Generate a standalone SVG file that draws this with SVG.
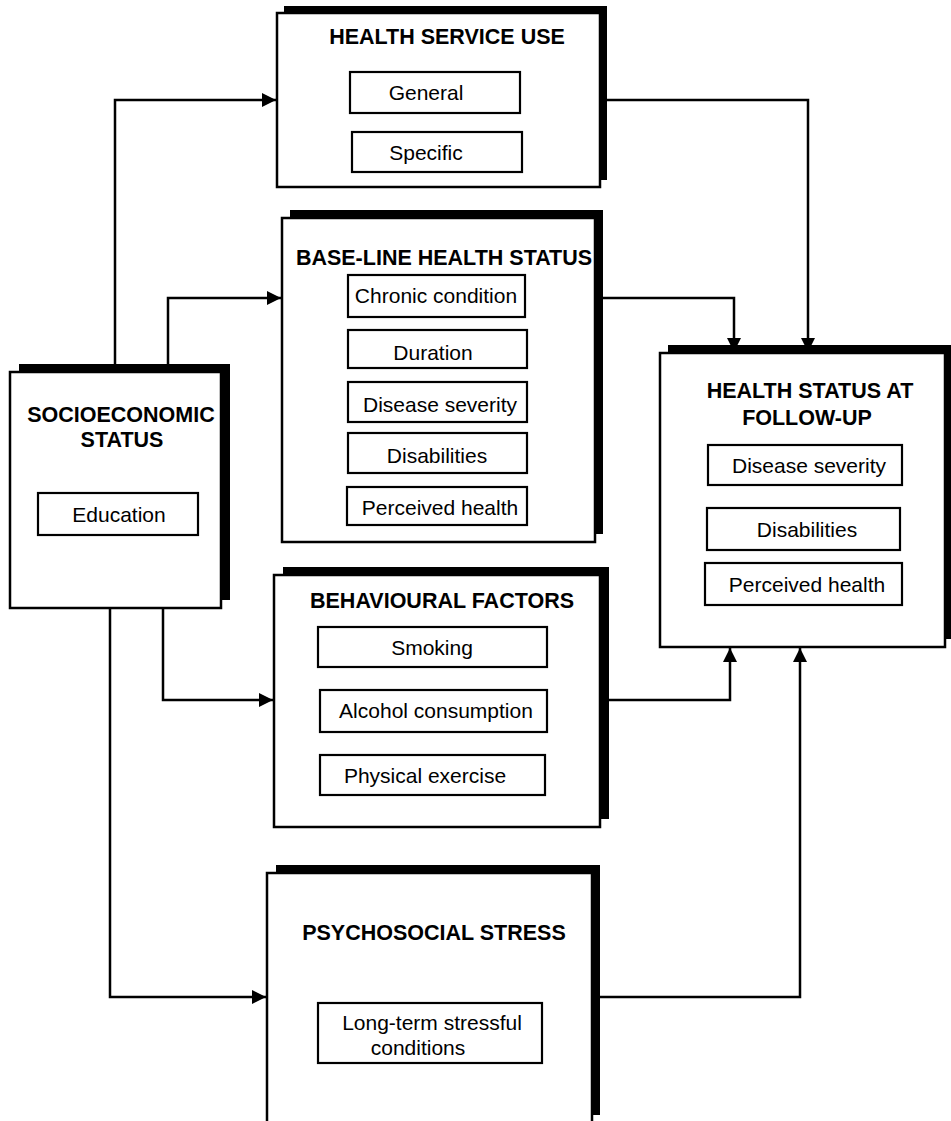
<svg xmlns="http://www.w3.org/2000/svg" width="951" height="1121" viewBox="0 0 951 1121">
<style>
.sh{fill:#000}
.bx{fill:#fff;stroke:#000;stroke-width:2.5}
.ib{fill:#fff;stroke:#000;stroke-width:2.2}
.t{font-family:"Liberation Sans",Arial,sans-serif;font-size:21.5px;font-weight:bold;text-anchor:middle;fill:#000}
.s{font-family:"Liberation Sans",Arial,sans-serif;font-size:21px;text-anchor:middle;fill:#000}
.c{fill:none;stroke:#000;stroke-width:2.5}
</style>
<defs>
<marker id="ah" viewBox="0 0 10 10" refX="10" refY="5" markerWidth="6.4" markerHeight="5.6" markerUnits="strokeWidth" orient="auto">
<path d="M0,0 L10,5 L0,10 Z" fill="#000"/>
</marker>
</defs>
<rect width="951" height="1121" fill="#fff"/>
<g id="connectors">
<path class="c" d="M115,372 V100 H276" marker-end="url(#ah)"/>
<path class="c" d="M168,372 V298 H281" marker-end="url(#ah)"/>
<path class="c" d="M600,100 H808 V352" marker-end="url(#ah)"/>
<path class="c" d="M595,298 H734 V352" marker-end="url(#ah)"/>
<path class="c" d="M163,608 V700 H273" marker-end="url(#ah)"/>
<path class="c" d="M110,608 V997 H266" marker-end="url(#ah)"/>
<path class="c" d="M600,700 H730 V648" marker-end="url(#ah)"/>
<path class="c" d="M592,997 H800 V648" marker-end="url(#ah)"/>
</g>
<g id="health-service-use">
<rect class="sh" x="284" y="6" width="323" height="174"/>
<rect class="bx" x="277" y="13" width="323" height="174"/>
<text class="t" x="447" y="44">HEALTH SERVICE USE</text>
<rect class="ib" x="350" y="72" width="170" height="41"/>
<text class="s" x="426" y="100">General</text>
<rect class="ib" x="352" y="132" width="170" height="40"/>
<text class="s" x="426" y="160">Specific</text>
</g>
<g id="baseline-health-status">
<rect class="sh" x="290" y="210" width="313" height="324"/>
<rect class="bx" x="282" y="218" width="313" height="324"/>
<text class="t" x="444" y="265">BASE-LINE HEALTH STATUS</text>
<rect class="ib" x="348" y="275" width="177" height="42"/>
<text class="s" x="436" y="303">Chronic condition</text>
<rect class="ib" x="348" y="330" width="179" height="38"/>
<text class="s" x="433" y="360">Duration</text>
<rect class="ib" x="348" y="382" width="179" height="40"/>
<text class="s" x="440" y="412">Disease severity</text>
<rect class="ib" x="348" y="433" width="179" height="40"/>
<text class="s" x="437" y="463">Disabilities</text>
<rect class="ib" x="347" y="487" width="180" height="38"/>
<text class="s" x="440" y="515">Perceived health</text>
</g>
<g id="socioeconomic-status">
<rect class="sh" x="19" y="364" width="211" height="236"/>
<rect class="bx" x="10" y="372" width="211" height="236"/>
<text class="t" x="121" y="422">SOCIOECONOMIC</text>
<text class="t" x="122" y="447">STATUS</text>
<rect class="ib" x="38" y="493" width="160" height="42"/>
<text class="s" x="119" y="522">Education</text>
</g>
<g id="health-status-follow-up">
<rect class="sh" x="668" y="345" width="285" height="294"/>
<rect class="bx" x="660" y="353" width="285" height="294"/>
<text class="t" x="810" y="398">HEALTH STATUS AT</text>
<text class="t" x="807" y="425">FOLLOW-UP</text>
<rect class="ib" x="708" y="445" width="194" height="40"/>
<text class="s" x="809" y="473">Disease severity</text>
<rect class="ib" x="707" y="508" width="193" height="42"/>
<text class="s" x="807" y="537">Disabilities</text>
<rect class="ib" x="705" y="563" width="197" height="42"/>
<text class="s" x="807" y="592">Perceived health</text>
</g>
<g id="behavioural-factors">
<rect class="sh" x="283" y="567" width="326" height="252"/>
<rect class="bx" x="274" y="575" width="326" height="252"/>
<text class="t" x="442" y="608">BEHAVIOURAL FACTORS</text>
<rect class="ib" x="318" y="627" width="229" height="40"/>
<text class="s" x="432" y="655">Smoking</text>
<rect class="ib" x="320" y="690" width="227" height="42"/>
<text class="s" x="436" y="718">Alcohol consumption</text>
<rect class="ib" x="320" y="755" width="225" height="40"/>
<text class="s" x="425" y="783">Physical exercise</text>
</g>
<g id="psychosocial-stress">
<rect class="sh" x="276" y="865" width="324" height="250"/>
<rect class="bx" x="267" y="873" width="325" height="260"/>
<text class="t" x="434" y="940">PSYCHOSOCIAL STRESS</text>
<rect class="ib" x="318" y="1003" width="224" height="60"/>
<text class="s" x="432" y="1030">Long-term stressful</text>
<text class="s" x="418" y="1055">conditions</text>
</g>
</svg>
